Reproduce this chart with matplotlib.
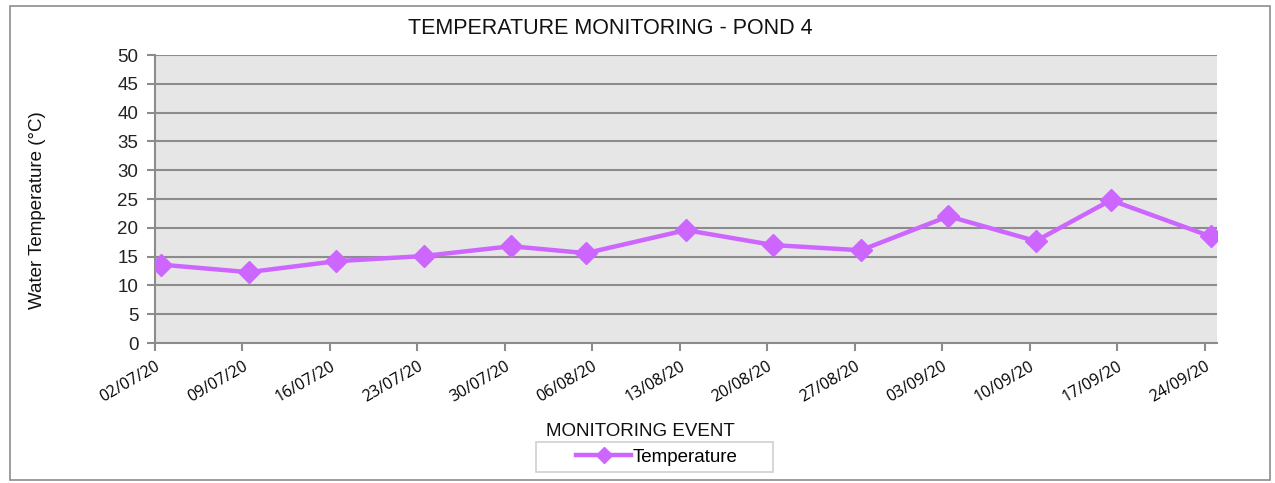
import numpy as np
import pandas as pd
import matplotlib
matplotlib.use("Agg")
import matplotlib.pyplot as plt
from matplotlib.patches import Rectangle

plt.rcParams['font.family'] = ['Liberation Sans', 'DejaVu Sans']

# sampling events (tick labels) and the measured times
tick_dates = ["02/07/20", "09/07/20", "16/07/20", "23/07/20", "30/07/20", "06/08/20",
              "13/08/20", "20/08/20", "27/08/20", "03/09/20", "10/09/20", "17/09/20",
              "24/09/20"]
sample_times = ["2020-07-02 12:00", "2020-07-09 12:00", "2020-07-16 12:00", "2020-07-23 12:00",
                "2020-07-30 12:00", "2020-08-05 12:00", "2020-08-13 12:00", "2020-08-20 12:00",
                "2020-08-27 12:00", "2020-09-03 12:00", "2020-09-10 12:00", "2020-09-16 12:00",
                "2020-09-24 12:00"]
temperature = [13.6, 12.3, 14.2, 15.1, 16.8, 15.6, 19.6, 17.0, 16.1, 22.0, 17.7, 24.8, 18.5]

x = pd.to_datetime(sample_times)
ticks = pd.to_datetime(tick_dates, format="%d/%m/%y")

W, H = 1275, 483
fig = plt.figure(figsize=(W / 100, H / 100), dpi=100)
ax = fig.add_axes([155 / W, 1 - 343 / H, (1217 - 155) / W, (343 - 55) / H])

# outer chart border
fig.patches.append(Rectangle((10 / W, 3 / H), 1260 / W, 474 / H,
                             transform=fig.transFigure, fill=False,
                             edgecolor="#8c8c8c", linewidth=1.2))

ax.set_facecolor("#e6e6e6")
ax.plot(x, temperature, color="#cc66ff", linewidth=3.2, marker="D", markersize=11,
        label="Temperature", zorder=3)

ax.set_ylim(0, 50)
ax.set_yticks(np.arange(0, 51, 5))
ax.set_xlim(ticks[0], ticks[-1] + pd.Timedelta(days=1))
ax.set_xticks(ticks)
ax.set_xticklabels(tick_dates, rotation=30, ha="right", rotation_mode="anchor",
                   fontsize=11.5, family=["Open Sans", "DejaVu Sans"])
ax.tick_params(axis="y", labelsize=13.5, colors="#222222", pad=6)
ax.tick_params(axis="both", length=6, color="#8c8c8c", width=1.5)
ax.tick_params(axis="x", pad=5)

ax.yaxis.grid(True, color="#8c8c8c", linewidth=1.5)
ax.set_axisbelow(True)
for s in ["top", "right"]:
    ax.spines[s].set_visible(False)
for s in ["left", "bottom"]:
    ax.spines[s].set_color("#8c8c8c")
    ax.spines[s].set_linewidth(1.5)

fig.text(610 / W, 1 - 28 / H, "TEMPERATURE MONITORING - POND 4", ha="center", va="center",
         fontsize=15.5, color="#111111")
fig.text(38 / W, 1 - 210 / H, "Water Temperature (°C)", rotation=90, ha="center", va="center",
         fontsize=13.5, color="#111111")
fig.text(640 / W, 1 - 431 / H, "MONITORING EVENT", ha="center", va="center",
         fontsize=13.5, color="#111111")

# legend frame drawn separately so its width matches the original
fig.patches.append(Rectangle((536 / W, 1 - 472 / H), 237 / W, 30 / H,
                             transform=fig.transFigure, fill=False,
                             edgecolor="#d0d0d0", linewidth=1.2))
ax.legend(loc="center", bbox_to_anchor=(657 / W, 1 - 457 / H),
          bbox_transform=fig.transFigure, frameon=False,
          fontsize=13.5, handlelength=2.9, handletextpad=0.1, markerscale=0.75)

fig.savefig("out.png", dpi=100)
